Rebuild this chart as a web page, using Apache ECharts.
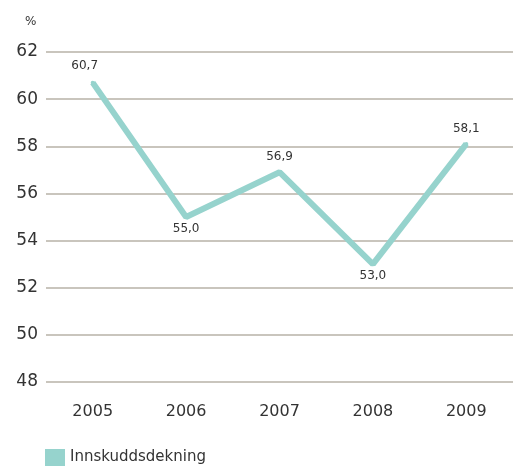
<!DOCTYPE html>
<html><head><meta charset="utf-8">
<script src="https://cdn.jsdelivr.net/npm/echarts@6/dist/echarts.min.js"></script>
<style>html,body{margin:0;padding:0;background:#fff}#c{width:513px;height:468px}</style>
</head><body><div id="c"></div>
<script>
const categories = ['2005','2006','2007','2008','2009'];
const values = [60.7, 55.0, 56.9, 53.0, 58.1];
const labelPos = ['top','bottom','top','bottom','top'];
const seriesName = 'Innskuddsdekning';
const yMin = 48, yMax = 62, yStep = 2;

const chart = echarts.init(document.getElementById('c'), null, {renderer:'canvas'});
chart.setOption({
  animation:false,
  backgroundColor:'#fff',
  grid:{left:46, right:0, top:52, bottom:86},
  graphic:[{type:'text', left:25, top:16, style:{text:'%', font:'12px "DejaVu Sans"', fill:'#333'}}],
  legend:{left:40, top:444, itemWidth:20, itemHeight:17, icon:'rect', itemGap:8,
    textStyle:{fontFamily:'"DejaVu Sans"', fontSize:15, color:'#333'}, data:[seriesName]},
  xAxis:{type:'category', data:categories, boundaryGap:true,
    axisLine:{show:false}, axisTick:{show:false},
    axisLabel:{fontFamily:'"DejaVu Sans"', fontSize:16, color:'#333', margin:22}},
  yAxis:{type:'value', min:yMin, max:yMax, interval:yStep,
    axisLine:{show:false}, axisTick:{show:false},
    axisLabel:{fontFamily:'"DejaVu Sans"', fontSize:17, color:'#333', margin:8},
    splitLine:{lineStyle:{color:'#c9c5bd', width:2}}},
  series:[{name:seriesName, type:'line', showSymbol:true, symbol:'circle', symbolSize:4,
    data: values.map((v,i)=>({value:v, label:{position:labelPos[i], distance: labelPos[i]==='top'?7:4, offset: i===0?[-8,-2]:[0,0]}})),
    itemStyle:{color:'#96d3cd', borderWidth:0},
    lineStyle:{color:'#96d3cd', width:6},
    label:{show:true, fontFamily:'"DejaVu Sans"', fontSize:12, color:'#333',
      formatter:p=>p.value.toFixed(1).replace('.',',')}}]
});
</script></body></html>
